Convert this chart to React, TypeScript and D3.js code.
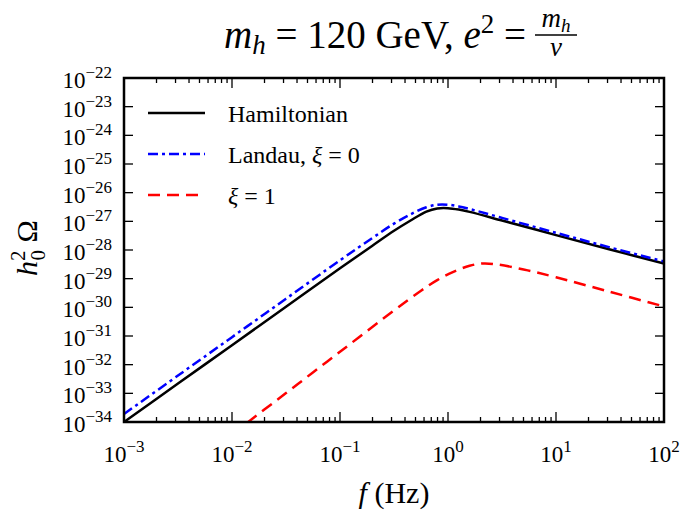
import React, { useEffect, useRef } from "react";
import * as d3 from "d3";

// log10 of frequency (Hz) and log10 of h0^2 Omega
const hamLogF = [-3, -2.5, -2, -1.5, -1, -0.7, -0.5, -0.35, -0.2, -0.1, 0, 0.1, 0.2, 0.5, 1, 1.5, 2];
const hamLogOmega = [-34, -32.66, -31.32, -29.98, -28.64, -27.85, -27.33, -26.98, -26.66, -26.55, -26.54, -26.59, -26.67, -26.97, -27.48, -27.98, -28.47];

const landauLogF = [-3, -2.5, -2, -1.5, -1, -0.7, -0.5, -0.35, -0.2, -0.1, 0, 0.1, 0.2, 0.5, 1, 1.5, 2];
const landauLogOmega = [-33.72, -32.38, -31.04, -29.7, -28.36, -27.58, -27.08, -26.76, -26.51, -26.42, -26.42, -26.48, -26.57, -26.88, -27.4, -27.91, -28.4];

const xiOneLogF = [-2, -1.5, -1, -0.5, -0.25, -0.1, 0.05, 0.2, 0.32, 0.45, 0.7, 1, 1.5, 2];
const xiOneLogOmega = [-34.43, -32.99, -31.55, -30.11, -29.42, -29.05, -28.76, -28.55, -28.47, -28.5, -28.68, -28.95, -29.46, -29.97];

const xTickExps = [-3, -2, -1, 0, 1, 2];
const yTickExps = [-34, -33, -32, -31, -30, -29, -28, -27, -26, -25, -24, -23, -22];

const legendLabels = ["Hamiltonian", "Landau, ", "ξ = 1"];

const FONT = "'Liberation Serif', 'DejaVu Serif', serif";

const App = () => {
  const ref = useRef(null);

  useEffect(() => {
    const svg = d3.select(ref.current);
    const width = 685;
    const height = 512;
    const margin = { top: 78, right: 21, bottom: 90, left: 124 };
    const w = width - margin.left - margin.right;
    const h = height - margin.top - margin.bottom;

    const x = d3.scaleLog().domain([1e-3, 1e2]).range([0, w]);
    const y = d3.scaleLog().domain([1e-34, 1e-22]).range([h, 0]);

    const g = svg.append("g").attr("transform", `translate(${margin.left},${margin.top})`);

    g.append("defs")
      .append("clipPath")
      .attr("id", "plotclip")
      .append("rect")
      .attr("width", w)
      .attr("height", h);

    const line = d3
      .line()
      .x((d) => x(Math.pow(10, d[0])))
      .y((d) => y(Math.pow(10, d[1])))
      .curve(d3.curveCatmullRom);

    const series = [
      { f: hamLogF, o: hamLogOmega, color: "#000000", dash: null },
      { f: landauLogF, o: landauLogOmega, color: "#0000ff", dash: "10,4,3,4" },
      { f: xiOneLogF, o: xiOneLogOmega, color: "#ff0000", dash: "12,7" },
    ];

    const curves = g.append("g").attr("clip-path", "url(#plotclip)");
    series.forEach((s) => {
      const pts = s.f.map((v, i) => [v, s.o[i]]);
      curves
        .append("path")
        .attr("d", line(pts))
        .attr("fill", "none")
        .attr("stroke", s.color)
        .attr("stroke-width", 2.5)
        .attr("stroke-dasharray", s.dash);
    });

    // ticks (inward) on all four sides
    const minorX = [];
    for (let e = -3; e < 2; e++) {
      for (let k = 2; k <= 9; k++) minorX.push(k * Math.pow(10, e));
    }
    const ticks = g.append("g").attr("stroke", "#000").attr("stroke-width", 1.3);
    xTickExps.forEach((e) => {
      const px = x(Math.pow(10, e));
      ticks.append("line").attr("x1", px).attr("x2", px).attr("y1", h).attr("y2", h - 10);
      ticks.append("line").attr("x1", px).attr("x2", px).attr("y1", 0).attr("y2", 10);
    });
    minorX.forEach((v) => {
      const px = x(v);
      ticks.append("line").attr("x1", px).attr("x2", px).attr("y1", h).attr("y2", h - 5);
      ticks.append("line").attr("x1", px).attr("x2", px).attr("y1", 0).attr("y2", 5);
    });
    yTickExps.forEach((e) => {
      const py = y(Math.pow(10, e));
      ticks.append("line").attr("x1", 0).attr("x2", 9).attr("y1", py).attr("y2", py);
      ticks.append("line").attr("x1", w).attr("x2", w - 9).attr("y1", py).attr("y2", py);
    });

    g.append("rect")
      .attr("width", w)
      .attr("height", h)
      .attr("fill", "none")
      .attr("stroke", "#000")
      .attr("stroke-width", 2.5);

    // tick labels
    yTickExps.forEach((e) => {
      const t = g
        .append("text")
        .attr("x", -12)
        .attr("y", y(Math.pow(10, e)) + 10)
        .attr("text-anchor", "end")
        .attr("font-family", FONT)
        .attr("font-size", 23);
      t.append("tspan").text("10");
      t.append("tspan").attr("dy", -10).attr("font-size", 17).text("−" + Math.abs(e));
    });
    xTickExps.forEach((e) => {
      const t = g
        .append("text")
        .attr("x", x(Math.pow(10, e)))
        .attr("y", h + 40)
        .attr("text-anchor", "middle")
        .attr("font-family", FONT)
        .attr("font-size", 23);
      t.append("tspan").text("10");
      t.append("tspan")
        .attr("dy", -10)
        .attr("font-size", 17)
        .text(e < 0 ? "−" + Math.abs(e) : String(e));
    });

    // axis labels
    const xl = svg
      .append("text")
      .attr("x", margin.left + w / 2)
      .attr("y", 503)
      .attr("text-anchor", "middle")
      .attr("font-family", FONT)
      .attr("font-size", 30);
    xl.append("tspan").attr("font-style", "italic").text("f");
    xl.append("tspan").text(" (Hz)");

    const yl = svg
      .append("text")
      .attr("transform", "translate(37,248) rotate(-90)")
      .attr("text-anchor", "middle")
      .attr("font-family", FONT)
      .attr("font-size", 30);
    yl.append("tspan").attr("font-style", "italic").text("h");
    yl.append("tspan").attr("font-size", 21).attr("dy", -12).text("2");
    yl.append("tspan").attr("font-size", 21).attr("dx", -10).attr("dy", 20).text("0");
    yl.append("tspan").attr("dy", -8).text(" Ω");

    // title
    const tt = svg
      .append("text")
      .attr("x", 224)
      .attr("y", 48)
      .attr("font-family", FONT)
      .attr("font-size", 39);
    tt.append("tspan").attr("font-style", "italic").text("m");
    tt.append("tspan").attr("font-style", "italic").attr("font-size", 27).attr("dy", 6).text("h");
    tt.append("tspan").attr("dy", -6).text(" = 120 GeV, ");
    tt.append("tspan").attr("font-style", "italic").text("e");
    tt.append("tspan").attr("font-size", 27).attr("dy", -15).text("2");
    tt.append("tspan").attr("dy", 15).text(" = ");
    const fracX = 556;
    const num = svg
      .append("text")
      .attr("x", fracX)
      .attr("y", 27)
      .attr("text-anchor", "middle")
      .attr("font-family", FONT)
      .attr("font-size", 27);
    num.append("tspan").attr("font-style", "italic").text("m");
    num.append("tspan").attr("font-style", "italic").attr("font-size", 19).attr("dy", 5).text("h");
    svg.append("line")
      .attr("x1", fracX - 21)
      .attr("x2", fracX + 21)
      .attr("y1", 35)
      .attr("y2", 35)
      .attr("stroke", "#000")
      .attr("stroke-width", 1.5);
    svg.append("text")
      .attr("x", fracX)
      .attr("y", 56)
      .attr("text-anchor", "middle")
      .attr("font-family", FONT)
      .attr("font-size", 27)
      .attr("font-style", "italic")
      .text("v");

    // legend
    const legendY = [113, 154, 195];
    const legend = svg.append("g");
    series.forEach((s, i) => {
      legend
        .append("line")
        .attr("x1", 148)
        .attr("x2", 205)
        .attr("y1", legendY[i])
        .attr("y2", legendY[i])
        .attr("stroke", s.color)
        .attr("stroke-width", 2.5)
        .attr("stroke-dasharray", s.dash);
      const t = legend
        .append("text")
        .attr("x", 228)
        .attr("y", legendY[i] + 9)
        .attr("font-family", FONT)
        .attr("font-size", 24);
      if (i === 1) {
        t.append("tspan").text(legendLabels[1]);
        t.append("tspan").attr("font-style", "italic").text(" ξ");
        t.append("tspan").text(" = 0");
      } else if (i === 2) {
        t.append("tspan").attr("font-style", "italic").text("ξ");
        t.append("tspan").text(" = 1");
      } else {
        t.text(legendLabels[0]);
      }
    });

    return () => {
      svg.selectAll("*").remove();
    };
  }, []);

  return (
    <svg
      ref={ref}
      width={685}
      height={512}
      style={{ position: "absolute", left: 0, top: 0, background: "#fff" }}
    ></svg>
  );
};

export default App;
